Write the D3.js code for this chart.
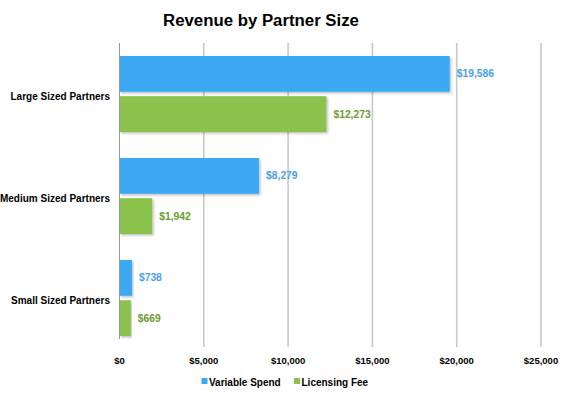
<!DOCTYPE html>
<html>
<head>
<meta charset="utf-8">
<script src="https://cdn.jsdelivr.net/npm/d3@7"></script>
<style>
  body { margin: 0; background: #fff; }
  svg { font-family: "Liberation Sans", Arial, sans-serif; }
</style>
</head>
<body>
<svg id="chart" width="566" height="396"></svg>
<script>
const categories = ['Large Sized Partners', 'Medium Sized Partners', 'Small Sized Partners'];
const seriesNames = ['Variable Spend', 'Licensing Fee'];
const variableSpend = [19586, 8279, 738];
const licensingFee = [12273, 1942, 669];
const xTicks = [0, 5000, 10000, 15000, 20000, 25000];

const colors = { 'Variable Spend': '#3aa9f3', 'Licensing Fee': '#8bc24b' };
const labelColors = { 'Variable Spend': '#4aa0ea', 'Licensing Fee': '#6a9c2e' };

const rows = categories.map((c, i) => ({
  category: c,
  values: [
    { key: 'Variable Spend', value: variableSpend[i] },
    { key: 'Licensing Fee', value: licensingFee[i] },
  ],
}));

const svg = d3.select('#chart');
const fmt = d3.format('$,');

const x = d3.scaleLinear().domain([0, 25000]).range([119.5, 541]);
const y = d3.scaleBand().domain(categories).range([43, 349]);
const ySub = d3.scaleBand().domain(seriesNames)
  .range([13, y.bandwidth() - 13]).paddingInner(0.11);

// title
svg.append('text')
  .attr('x', 261).attr('y', 26)
  .attr('text-anchor', 'middle')
  .attr('font-size', 16.8).attr('font-weight', 'bold')
  .text('Revenue by Partner Size');

// shadow filter
const defs = svg.append('defs');
const filter = defs.append('filter').attr('id', 'shadow')
  .attr('x', '-5%').attr('y', '-10%').attr('width', '115%').attr('height', '130%');
filter.append('feDropShadow')
  .attr('dx', 1.5).attr('dy', 1.5).attr('stdDeviation', 1)
  .attr('flood-color', '#000').attr('flood-opacity', 0.25);

// gridlines
svg.append('g')
  .selectAll('line')
  .data(xTicks.slice(1))
  .join('line')
  .attr('x1', d => x(d)).attr('x2', d => x(d))
  .attr('y1', 43).attr('y2', 347)
  .attr('stroke', '#c8c8c8').attr('stroke-width', 1.6);

// bars
const groups = svg.append('g')
  .selectAll('g')
  .data(rows)
  .join('g')
  .attr('transform', d => `translate(0,${y(d.category)})`);

groups.selectAll('rect')
  .data(d => d.values)
  .join('rect')
  .attr('x', x(0))
  .attr('y', d => ySub(d.key))
  .attr('width', d => x(d.value) - x(0))
  .attr('height', ySub.bandwidth())
  .attr('fill', d => colors[d.key])
  .attr('filter', 'url(#shadow)');

groups.selectAll('text.val')
  .data(d => d.values)
  .join('text')
  .attr('class', 'val')
  .attr('x', d => x(d.value) + 7)
  .attr('y', d => ySub(d.key) + ySub.bandwidth() / 2)
  .attr('dy', '0.35em')
  .attr('font-size', 10.3).attr('font-weight', 'bold')
  .attr('fill', d => labelColors[d.key])
  .text(d => fmt(d.value));

// zero axis line
svg.append('line')
  .attr('x1', x(0)).attr('x2', x(0))
  .attr('y1', 43).attr('y2', 339)
  .attr('stroke', '#999').attr('stroke-width', 1);

// category labels
svg.append('g')
  .selectAll('text')
  .data(categories)
  .join('text')
  .attr('x', 110)
  .attr('y', d => y(d) + y.bandwidth() / 2 + 2)
  .attr('dy', '0.35em')
  .attr('text-anchor', 'end')
  .attr('font-size', 10).attr('font-weight', 'bold')
  .text(d => d);

// x tick labels
svg.append('g')
  .selectAll('text')
  .data(xTicks)
  .join('text')
  .attr('x', d => x(d))
  .attr('y', 361)
  .attr('dy', '0.35em')
  .attr('text-anchor', 'middle')
  .attr('font-size', 9.5).attr('font-weight', 'bold')
  .text(d => fmt(d));

// legend
const legendX = [201.5, 294];
const legend = svg.append('g')
  .selectAll('g')
  .data(seriesNames)
  .join('g')
  .attr('transform', (d, i) => `translate(${legendX[i]},383)`);
legend.append('rect')
  .attr('x', 0).attr('y', -5)
  .attr('width', 6).attr('height', 6)
  .attr('fill', d => colors[d]);
legend.append('text')
  .attr('x', 7.5).attr('y', 0)
  .attr('dy', '0.3em')
  .attr('font-size', 10).attr('font-weight', 'bold')
  .text(d => d);
</script>
</body>
</html>
